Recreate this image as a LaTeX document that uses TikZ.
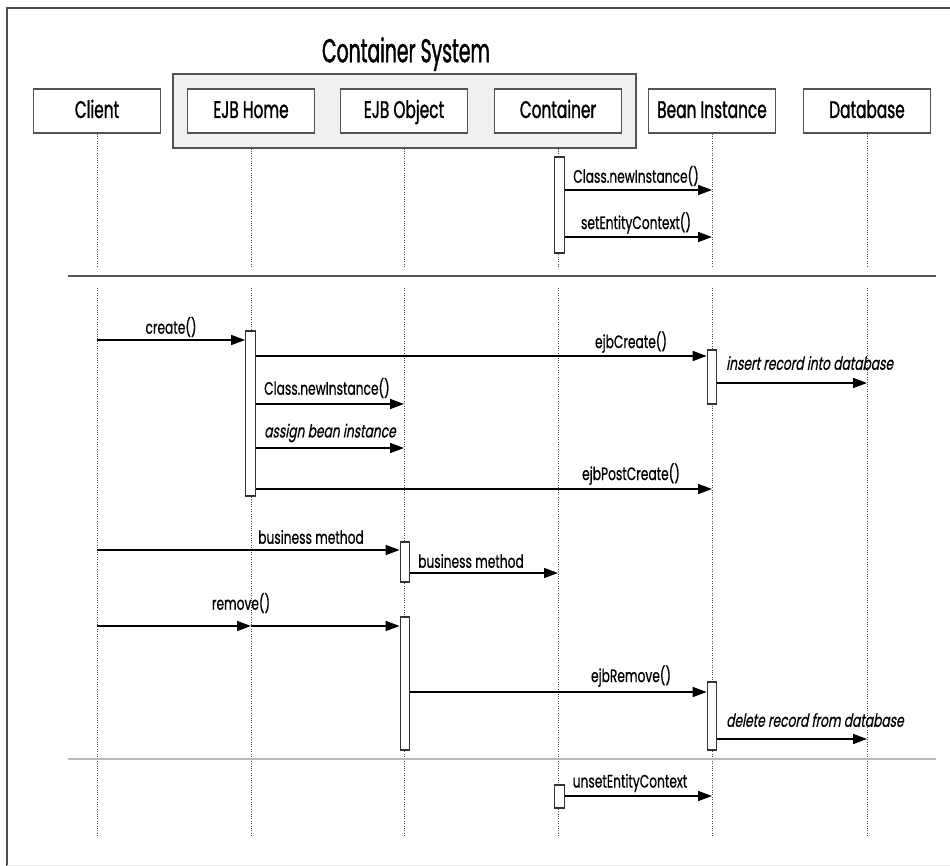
\documentclass[tikz,border=0pt]{standalone}
\usepackage{fontspec}
\setmainfont{Poppins}[FakeStretch=0.68,FakeBold=0.6]
\newfontfamily\slfont{Poppins}[FakeStretch=0.68,FakeSlant=0.18,FakeBold=0.6]
\newfontfamily\hdrfont{Poppins}[FakeStretch=0.64,FakeBold=1.2]
\newfontfamily\titlefont{Poppins}[FakeStretch=0.57,FakeBold=1.2]
\usetikzlibrary{arrows.meta}
\newcommand\titlesize{\fontsize{33}{36}\selectfont\titlefont}
\newcommand\hdrsize{\fontsize{24}{26}\selectfont\hdrfont}
\newcommand\lblsize{\fontsize{18}{20}\selectfont}
\begin{document}
\begin{tikzpicture}[x=1pt,y=-1pt,
  hdr/.style={draw=gray!65!black, line width=1.3pt, fill=white,
    minimum width=127pt, minimum height=44pt, inner sep=0pt, font=\hdrsize,
    text height=17pt, text depth=3pt},
  life/.style={gray!55!black, line width=0.9pt, dash pattern=on 1pt off 1.4pt},
  act/.style={draw=gray!40!black, line width=1.2pt, fill=white,
    minimum width=9.5pt, inner sep=0pt},
  msg/.style={line width=1.6pt, -{Triangle[length=14pt,width=10pt]}},
  lbl/.style={font=\lblsize, inner sep=0pt},
  ilbl/.style={font=\lblsize\slfont, inner sep=0pt},
  sep/.style={line width=1.2pt, draw=gray!70!black}]
\useasboundingbox (0,0) rectangle (950,866);

% page frame
\draw[gray!60!black, line width=2pt] (7,866) -- (7,8) -- (950,8);
\draw[gray!15, line width=1pt] (7,865) -- (950,865);

% container system group
\node[draw=gray!65!black, line width=1.3pt, fill=gray!12, minimum width=463pt,
  minimum height=74pt, inner sep=0pt] (sys) at (404.5,111) {};
\node[font=\titlesize, inner sep=0pt] (systitle) at (406,54) {Container System};

% participants
\node[hdr] (client) at (97,111)  {Client};
\node[hdr] (home)   at (251,111) {EJB Home};
\node[hdr] (object) at (404,111) {EJB Object};
\node[hdr] (cont)   at (558,111) {Container};
\node[hdr] (bean)   at (712,111) {Bean Instance};
\node[hdr] (db)     at (867,111) {Database};

% lifeline break and end rows
\coordinate (brkA) at (0,267);
\coordinate (brkB) at (0,288);
\coordinate (bottom) at (0,837);

\draw[life] (client.south) -- (client |- brkA);
\draw[life] (home |- sys.south) -- (home |- brkA);
\draw[life] (object |- sys.south) -- (object |- brkA);
\draw[life] (cont |- sys.south) -- (cont |- brkA);
\draw[life] (bean.south) -- (bean |- brkA);
\draw[life] (db.south) -- (db |- brkA);
\foreach \p in {client,home,object,cont,bean,db}
  \draw[life] (\p |- brkB) -- (\p |- bottom);

% phase separators
\coordinate (sepL1) at (68,276);  \coordinate (sepR1) at (936,276);
\coordinate (sepL2) at (68,759);  \coordinate (sepR2) at (936,759);
\draw[sep] (sepL1) -- (sepR1);
\draw[gray!55, line width=2pt] (sepL2) -- (sepR2);

% activation bars
\node[act, minimum height=96pt]  (contA1) at (559.5,205)   {};
\node[act, minimum height=165pt] (homeA)  at (250.5,413.5) {};
\node[act, minimum height=54pt]  (beanA1) at (712,377)     {};
\node[act, minimum height=40pt]  (objA1)  at (405,562)     {};
\node[act, minimum height=133pt] (objA2)  at (405,683.5)   {};
\node[act, minimum height=68pt]  (beanA2) at (712,716)     {};
\node[act, minimum height=23pt]  (contA2) at (559.5,796.5) {};

% message rows
\coordinate (r1) at (0,190);  \coordinate (r2) at (0,237);
\coordinate (r3) at (0,340);  \coordinate (r4) at (0,356);
\coordinate (r5) at (0,383);  \coordinate (r6) at (0,404);
\coordinate (r7) at (0,448);  \coordinate (r8) at (0,489);
\coordinate (r9) at (0,550);  \coordinate (r10) at (0,573);
\coordinate (r11) at (0,626); \coordinate (r12) at (0,692);
\coordinate (r13) at (0,739); \coordinate (r14) at (0,796);

% instance creation
\draw[msg] (contA1.east |- r1) -- (bean |- r1);
\node[lbl] (l1) at (636,176) {Class.newInstance()};
\draw[msg] (contA1.east |- r2) -- (bean |- r2);
\node[lbl] (l2) at (636,223) {setEntityContext()};

% create
\draw[msg] (client |- r3) -- (homeA.west |- r3);
\node[lbl] (l3) at (171,327) {create()};
\draw[msg] (homeA.east |- r4) -- (beanA1.west |- r4);
\node[lbl] (l4) at (631,342) {ejbCreate()};
\draw[msg] (beanA1.east |- r5) -- (db |- r5);
\node[ilbl, anchor=west] (l5) at (726,363) {insert record into database};
\draw[msg] (homeA.east |- r6) -- (object |- r6);
\node[lbl, anchor=west] (l6) at (264,388) {Class.newInstance()};
\draw[msg] (homeA.east |- r7) -- (object |- r7);
\node[ilbl, anchor=west] (l7) at (264,433) {assign bean instance};
\draw[msg] (homeA.east |- r8) -- (bean |- r8);
\node[lbl] (l8) at (631,474) {ejbPostCreate()};

% business method
\draw[msg] (client |- r9) -- (objA1.west |- r9);
\node[lbl] (l9) at (311,537) {business method};
\draw[msg] (objA1.east |- r10) -- (cont |- r10);
\node[lbl, anchor=west] (l10) at (418,561) {business method};

% remove
\draw[msg] (client |- r11) -- (home |- r11);
\draw[msg] (home |- r11) -- (objA2.west |- r11);
\node[lbl] (l11) at (241,603) {remove()};
\draw[msg] (objA2.east |- r12) -- (beanA2.west |- r12);
\node[lbl] (l12) at (631,676) {ejbRemove()};
\draw[msg] (beanA2.east |- r13) -- (db |- r13);
\node[ilbl, anchor=west] (l13) at (726,720) {delete record from database};

% release
\draw[msg] (contA2.east |- r14) -- (bean |- r14);
\node[lbl] (l14) at (630,783) {unsetEntityContext};
\end{tikzpicture}
\end{document}
